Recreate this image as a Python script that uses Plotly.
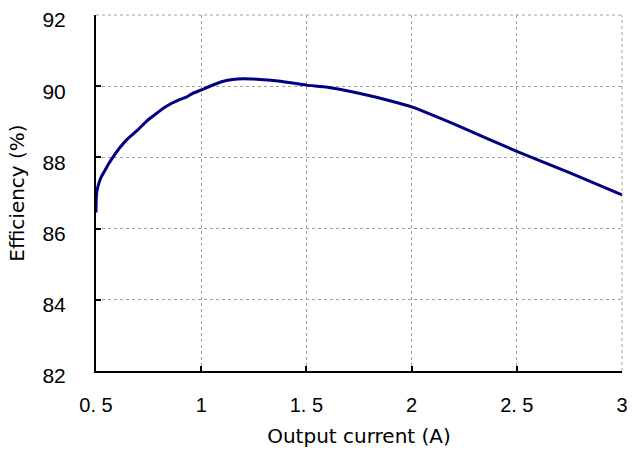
import plotly.graph_objects as go

current = [0.5, 0.501, 0.503, 0.508, 0.514, 0.525, 0.543, 0.56, 0.58, 0.61, 0.65, 0.7, 0.741, 0.78,
           0.82, 0.86, 0.9, 0.932, 0.96, 0.995, 1.05, 1.106, 1.15, 1.2, 1.28, 1.376, 1.5, 1.6, 1.75,
           1.924, 2.0, 2.233, 2.503, 2.75, 3.0]
efficiency = [86.45, 86.8, 87.0, 87.15, 87.28, 87.45, 87.64, 87.82, 88.0, 88.25, 88.52, 88.78, 89.02, 89.2,
              89.38, 89.52, 89.63, 89.70, 89.8, 89.88, 90.02, 90.14, 90.19, 90.21, 90.19, 90.14, 90.03, 89.97, 89.8,
              89.55, 89.42, 88.86, 88.16, 87.57, 86.95]

x_ticks = [0.5, 1, 1.5, 2, 2.5, 3]
x_ticktext = ["0. 5", "1", "1. 5", "2", "2. 5", "3"]
y_ticks = [82, 84, 86, 88, 90, 92]

fig = go.Figure()
fig.add_trace(go.Scatter(x=current, y=efficiency, mode="lines",
                         line=dict(color="#000080", width=3, shape="spline", smoothing=0.5),
                         showlegend=False))

# dotted frame on the top and right edges (as in the reference)
fig.add_shape(type="line", xref="paper", yref="paper", x0=0, x1=1, y0=1, y1=1,
              line=dict(color="#a0a0a0", width=1, dash="dot"), layer="below")
fig.add_shape(type="line", xref="paper", yref="paper", x0=1, x1=1, y0=0, y1=1,
              line=dict(color="#a0a0a0", width=1, dash="dot"), layer="below")

fig.update_layout(
    width=632, height=458,
    margin=dict(l=96, r=10, t=15, b=87),
    paper_bgcolor="white", plot_bgcolor="white",
    font=dict(family="Liberation Sans, Arial, sans-serif", size=20, color="black"),
    xaxis=dict(range=[0.5, 3], tickvals=x_ticks, ticktext=x_ticktext, automargin=False,
               showgrid=True, gridcolor="#a0a0a0", griddash="dot", gridwidth=1,
               showline=True, linecolor="black", linewidth=2,
               ticks="inside", ticklen=5, tickcolor="black", tickwidth=2,
               ticklabelstandoff=15, ticklabeloverflow="allow",
               tickfont=dict(family="Liberation Sans, Arial, sans-serif", size=20),
               title=dict(text="Output current (A)",
                          font=dict(family="DejaVu Sans, sans-serif", size=20), standoff=14),
               zeroline=False),
    yaxis=dict(range=[82, 92], tickvals=y_ticks, automargin=False,
               showgrid=True, gridcolor="#a0a0a0", griddash="dot", gridwidth=1,
               showline=True, linecolor="black", linewidth=2,
               ticks="inside", ticklen=5, tickcolor="black", tickwidth=2,
               ticklabelstandoff=24, ticklabelshift=5, ticklabeloverflow="allow",
               tickfont=dict(family="Liberation Sans, Arial, sans-serif", size=21),
               title=dict(text="Efficiency (%)",
                          font=dict(family="DejaVu Sans, sans-serif", size=20), standoff=12),
               zeroline=False),
)
fig.write_html("out.html", config={"displayModeBar": False},
               post_script="document.body.style.margin='0';")
